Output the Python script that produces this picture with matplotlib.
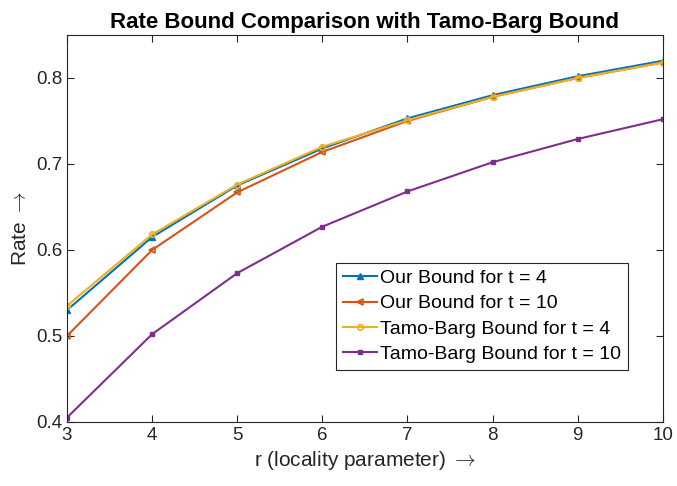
import matplotlib
matplotlib.use('Agg')
import matplotlib.pyplot as plt

plt.rcParams['font.family'] = ['Liberation Sans', 'DejaVu Sans']
plt.rcParams['mathtext.fontset'] = 'cm'

# data
r = [3, 4, 5, 6, 7, 8, 9, 10]
our_t4 = [0.530, 0.615, 0.675, 0.718, 0.753, 0.780, 0.802, 0.820]
our_t10 = [0.500, 0.600, 0.667, 0.714, 0.750, 0.778, 0.800, 0.818]
tb_t4 = [0.535, 0.618, 0.676, 0.720, 0.751, 0.778, 0.800, 0.818]
tb_t10 = [0.405, 0.502, 0.573, 0.627, 0.668, 0.702, 0.729, 0.752]

fig = plt.figure(figsize=(6.77, 4.86), dpi=100)
ax = fig.add_axes([0.099, 0.132, 0.880, 0.796])

ax.plot(r, our_t4, '-^', color='#0072BD', lw=1.5, ms=4, label='Our Bound for t = 4')
ax.plot(r, our_t10, '-<', color='#D95319', lw=1.5, ms=4, mfc='none', mew=1.2, label='Our Bound for t = 10')
ax.plot(r, tb_t4, '-o', color='#EDB120', lw=1.5, ms=4, mfc='none', mew=1.2, label='Tamo-Barg Bound for t = 4')
ax.plot(r, tb_t10, '-s', color='#7E2F8E', lw=1.5, ms=3.5, label='Tamo-Barg Bound for t = 10')

ax.set_xlim(3, 10)
ax.set_ylim(0.4, 0.85)
ax.set_xticks(r)
ax.set_yticks([0.4, 0.5, 0.6, 0.7, 0.8])
ax.set_yticklabels(['0.4', '0.5', '0.6', '0.7', '0.8'])
ax.tick_params(direction='in', top=True, right=True, labelsize=13.5, colors='#262626', length=5)
for s in ax.spines.values():
    s.set_color('#262626')
    s.set_linewidth(0.8)

ax.set_title('Rate Bound Comparison with Tamo-Barg Bound', fontsize=16, fontweight='bold', pad=5)
ax.set_xlabel(r'r (locality parameter) $\rightarrow$', fontsize=15, color='#262626')
ax.set_ylabel(r'Rate $\rightarrow$', fontsize=15, color='#262626')

leg = ax.legend(loc='lower right', bbox_to_anchor=(0.941, 0.134), fontsize=14,
                fancybox=False, edgecolor='#262626', framealpha=1,
                handlelength=1.75, handletextpad=0.15, borderpad=0.35, labelspacing=0.4, borderaxespad=0)
leg.get_frame().set_linewidth(0.8)

fig.savefig('out.png', dpi=100)
